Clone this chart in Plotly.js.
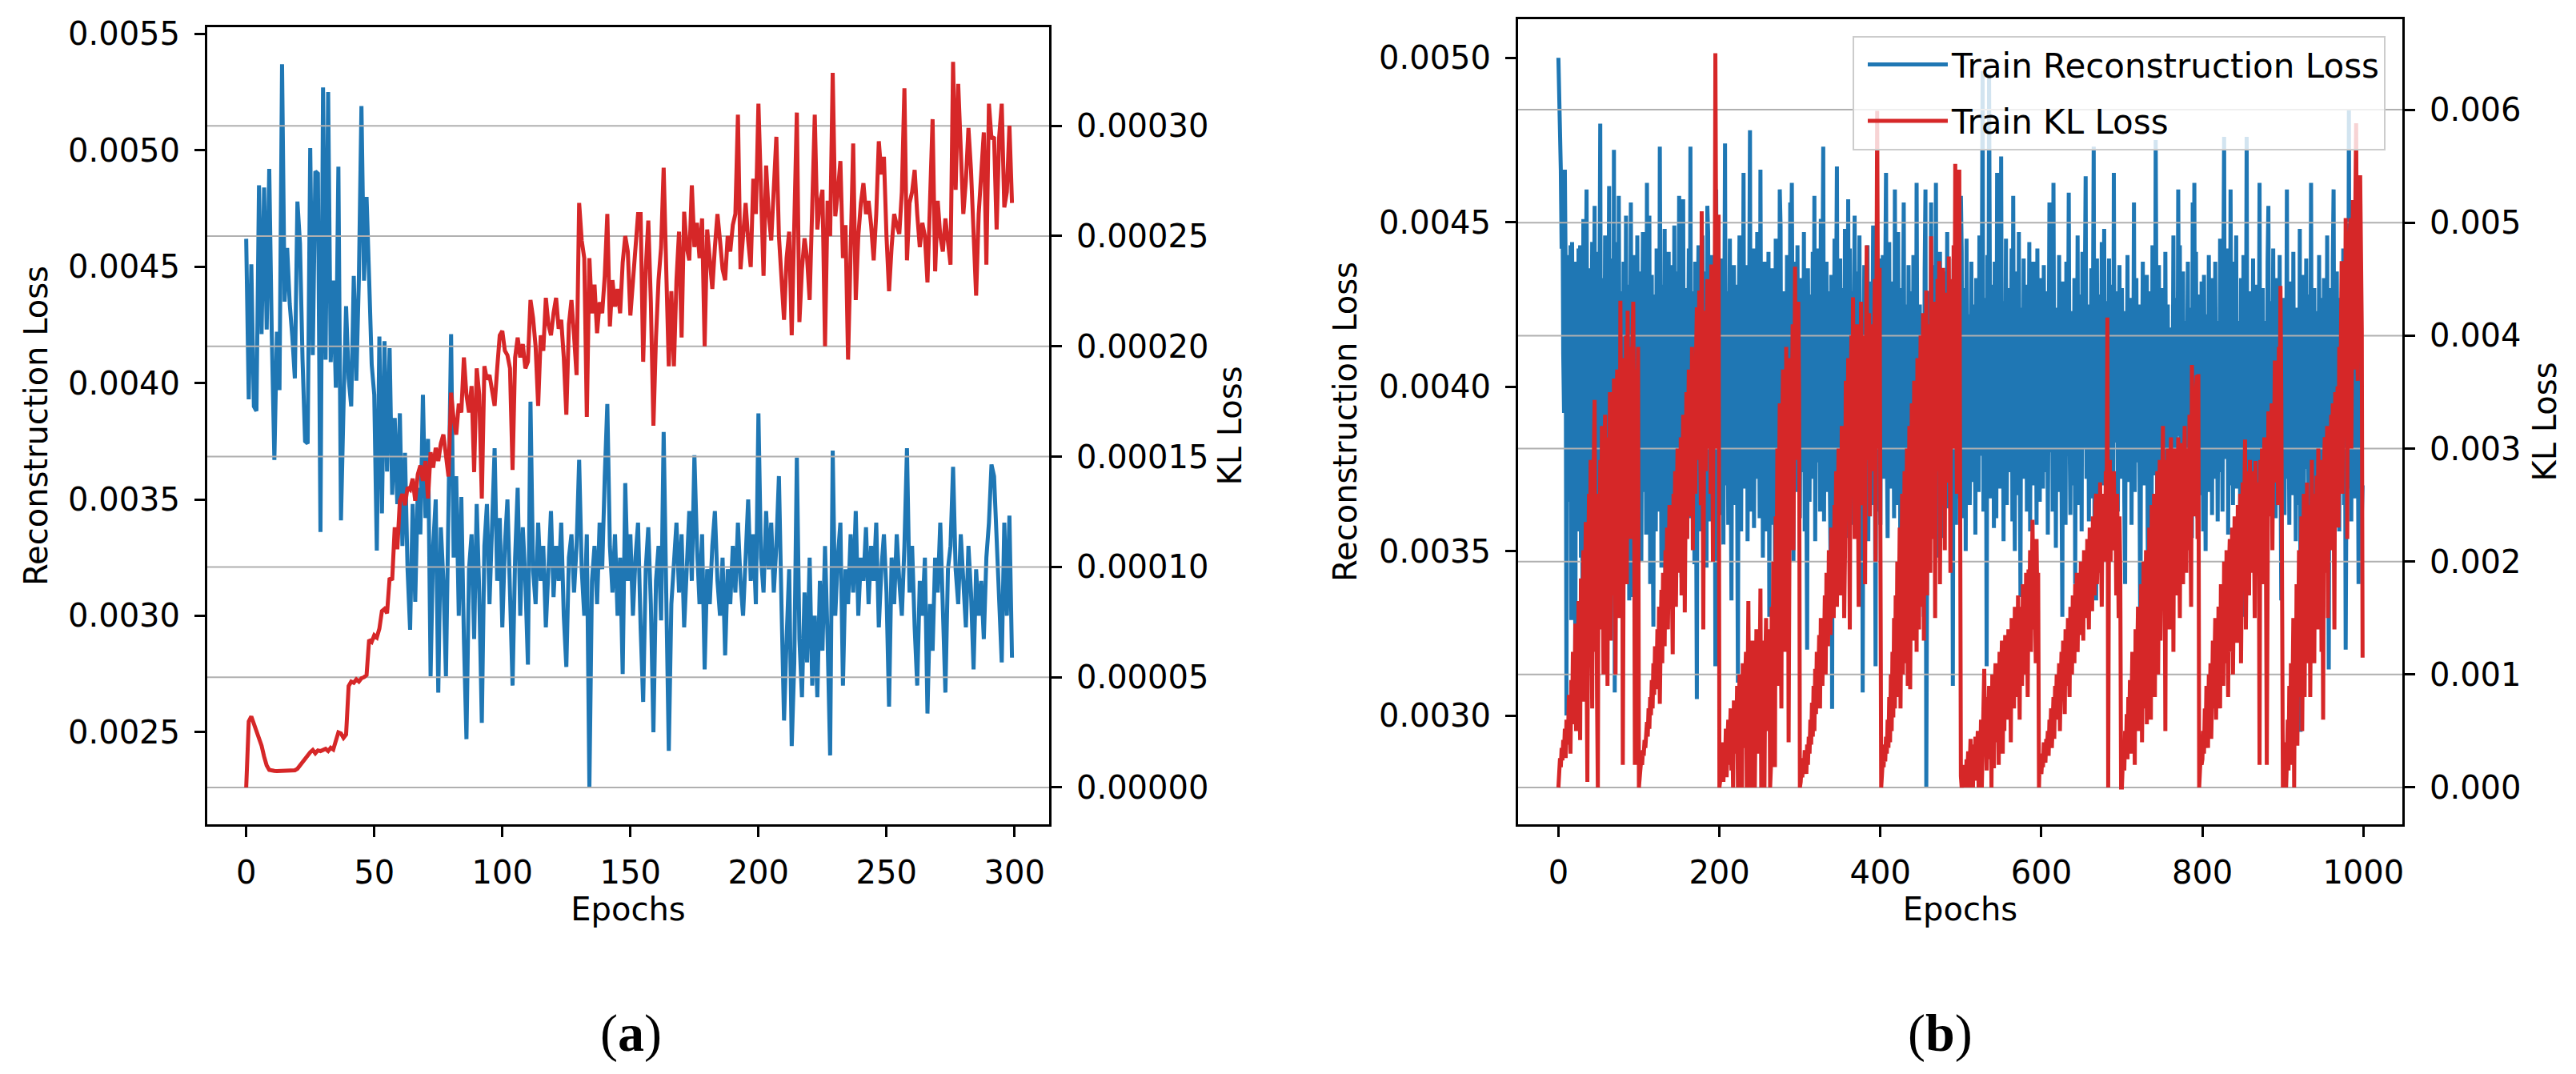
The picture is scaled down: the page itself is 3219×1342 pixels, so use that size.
<!DOCTYPE html>
<html>
<head>
<meta charset="utf-8">
<script src="https://cdn.plot.ly/plotly-3.0.1.min.js"></script>
<style>
html,body{margin:0;padding:0;background:#ffffff;}
#chart{width:3219px;height:1342px;}
</style>
</head>
<body>
<div id="chart"></div>
<script>
// ---------- Panel (a): 300 epochs ----------
// reconstruction loss, in units of 1e-6
const reconA_micro = [
4620,3930,4510,3900,3880,4850,4210,4840,4230,4920,
4200,3670,4220,3970,5370,4350,4580,4340,4200,4020,
4780,4600,4100,3750,3740,5010,4120,4910,4900,3360,
5270,4100,5250,4090,4440,3980,4930,3410,3900,4330,
4020,3900,4460,4010,4450,5190,4440,4800,4450,4080,
3950,3280,4200,3440,4180,3620,4150,3520,3850,3480,
3870,3300,3700,3200,2940,3480,3060,3550,3350,3950,
3420,3760,2740,3300,3500,2670,3380,3150,2740,3460,
4210,3250,3600,3000,3510,2900,2470,3200,3350,2900,
3480,3100,2540,3300,3480,3050,3350,3720,3150,3420,
2950,3300,3500,3100,2700,3250,3550,3000,3380,3150,
2790,3920,3200,3050,3400,3150,3300,2950,3250,3450,
3080,3300,3150,3400,3000,2780,3250,3350,3100,3300,
3670,3200,3000,3350,2265,3150,3300,3050,3400,3200,
3600,3910,3300,3100,3350,3000,3250,2750,3570,3150,
3350,3000,3250,3400,2950,2630,3200,3380,3050,2500,
3150,3300,2980,3790,3100,2420,3050,3250,3400,3100,
3350,2950,3200,3450,3150,3690,3300,3050,3350,2770,
3200,3050,3300,3450,3150,3000,3250,2830,3200,3050,
3300,3100,3400,3150,3000,3300,3500,3150,3350,3050,
3870,3250,3100,3450,3200,3400,3100,3300,3600,3050,
2550,2900,3200,2440,2800,3680,2900,2650,3100,2800,
3250,2700,3000,2650,3150,2850,3300,2900,2400,3710,
3000,3250,3400,2700,3200,3050,3350,3100,3450,3000,
3250,3150,3380,3050,3300,3150,3400,2950,3200,3350,
3100,2610,3250,3050,3350,3150,3000,3300,3720,3100,
3300,2950,2700,3150,3000,3250,2580,3050,2850,3250,
3100,3400,2950,2670,3200,3300,3640,3200,3050,3350,
3150,2950,3300,3100,2770,3200,3000,3150,2900,3250,
3400,3650,3600,3300,3100,2800,3400,3000,3430,2820
];
// KL loss, in units of 1e-7
const klA_e7 = [
0,300,322,290,250,215,190,140,100,80,
76,75,74,75,74,75,76,75,76,78,
85,100,115,135,150,160,170,155,168,165,
170,175,165,180,172,210,250,245,225,240,
460,480,475,490,480,495,500,510,670,660,
690,680,720,800,810,790,950,940,1180,1080,
1300,1330,1280,1360,1350,1400,1300,1420,1460,1390,
1480,1310,1520,1450,1540,1480,1560,1600,1520,1410,
1790,1670,1600,1740,1700,1950,1780,1700,1820,1430,
1900,1780,1310,1910,1850,1870,1800,1730,1900,2050,
2070,1980,1960,1900,1440,1950,2040,1950,2010,1900,
1930,2210,2130,2000,1730,2050,1980,2220,2100,2050,
2150,2220,2080,2120,1950,1690,2100,2210,2050,1870,
2650,2480,2400,1680,2400,2150,2280,2060,2200,2150,
2320,2600,2090,2300,2180,2260,2150,2380,2500,2430,
2140,2300,2450,2600,2600,1930,2350,2570,2200,1640,
2040,2300,2450,2810,2350,1910,2250,1910,2300,2520,
2040,2610,2450,2390,2730,2450,2560,2400,2580,2000,
2530,2400,2260,2450,2600,2480,2350,2300,2500,2430,
2550,2600,3050,2350,2500,2650,2480,2360,2760,2600,
3100,2650,2320,2820,2600,2480,2700,2950,2500,2300,
2120,2400,2520,2050,2600,3060,2110,2350,2490,2400,
2210,2600,3050,2530,2650,2710,2000,2660,2500,3240,
2590,2700,2840,2400,2550,1940,2400,2920,2210,2500,
2650,2740,2600,2660,2550,2390,2600,2930,2780,2860,
2500,2250,2450,2600,2550,2510,2700,3170,2390,2650,
2700,2800,2600,2450,2560,2500,2290,2650,3030,2340,
2660,2500,2430,2580,2450,2370,3290,2710,3190,2900,
2600,2750,2990,2800,2500,2230,2600,2800,2970,2370,
3100,2940,2950,2530,2950,3100,2630,2700,3000,2650
];

// ---------- Panel (b): 1000 epochs ----------
// train reconstruction loss, units of 1e-6
const reconB_micro = [
5000,4870,4880,4660,4420,4650,4100,3920,4660,4350,3000,4400,3650,4250,3800,4430,3290,4440,3950,3700,
4380,3130,4250,4050,3560,4420,3820,4430,3480,4150,3300,4510,3700,3340,4280,4600,3890,3560,4120,4360,
3720,4280,4440,3610,3980,4550,3250,3200,3840,4410,3680,4060,4800,3520,4330,4090,3400,3870,4460,3750,
4270,3590,4050,4610,3330,3920,4390,3780,3510,4720,3070,4160,4440,3860,3620,4580,4010,3430,4290,3900,
3580,4380,4150,3720,4520,3460,3990,4310,3350,4230,4560,3810,3360,4400,4080,3520,4280,3740,4460,3940,
3610,4350,4030,3470,4190,4470,3680,3880,4400,3550,4620,3790,4110,4520,3400,3960,4340,3630,3270,4280,
4020,3560,4420,3770,4180,3620,4730,3900,3450,4310,4090,3690,4480,3340,4000,4270,3730,4410,3580,3950,
4370,3330,4160,3800,4490,3640,4060,4350,3500,3910,4580,3780,4230,3420,3990,4570,3670,4140,3860,4300,
3540,4050,4420,3740,4730,3600,3880,4290,4020,3460,4380,3710,3050,4180,4430,3820,3560,4250,3960,4460,
3680,4120,3870,4350,3450,4550,4470,3760,3590,4230,4400,3660,4080,3920,4330,3150,4600,3850,3530,4270,
4070,3610,4390,3830,4180,3520,4440,4740,3700,3960,4290,3580,4120,4450,3770,3350,4220,3900,4370,3640,
4010,4310,3740,3100,4190,4460,3860,3560,4280,3990,4650,3690,4130,3820,4370,3530,4040,4260,4780,3620,
4180,3880,4420,3570,3990,4300,3720,4470,3850,4110,3600,4660,3930,4240,3480,4070,4380,3780,3560,4330,
4020,4410,3300,3950,4270,3580,4360,3840,4120,3470,4450,3760,4050,4310,3630,4600,4490,3710,4180,3860,
3540,4290,4060,3730,4400,3350,4150,3600,4560,4340,4620,4030,3470,4380,3950,4200,3680,4430,3820,4100,
3600,4330,3910,4180,3740,4470,3560,4250,3870,3200,4360,3990,3650,4280,4060,3720,4410,3840,4580,3530,
4080,4420,3770,3960,4300,3620,4510,3860,4150,4730,3590,4200,3940,4380,3680,4040,4290,3750,3500,4340,
3020,4110,3880,4450,3710,4250,4670,3830,3590,4180,4390,3930,3650,4300,4070,3760,4480,3540,4210,3880,
4570,3700,4420,3960,3580,4290,3820,4160,4520,3730,3990,4350,3610,4080,4460,3800,3560,4240,3070,4010,
4370,3690,4100,3880,4430,3530,4200,3950,4320,3640,4060,4490,3760,3910,3150,4280,4050,3620,4390,3850,
3580,4210,4010,4400,3720,3960,4280,4650,3830,3540,4170,4440,3690,4030,4320,3780,4120,3600,4600,3920,
4190,3640,4470,3870,4010,3300,4300,3750,4140,4560,3820,3480,4250,4020,3660,4370,3910,4100,3530,4290,
3840,4400,3700,4060,3590,4620,3980,4150,3460,4250,3790,4020,3620,4200,3300,4350,4600,2780,3760,4130,
3640,4290,3880,4560,3550,4060,4370,3720,3950,4620,3480,4180,4010,3690,4410,3820,3540,4270,3960,4120,
3700,4350,3900,4470,3630,4080,3780,4300,3520,4160,3090,4390,3850,4120,3580,4460,3720,4010,4280,3660,
4580,4410,3600,4150,3880,4300,3500,4450,3760,4060,4220,3640,3930,4380,3710,4250,3820,4120,3550,4330,
3870,4200,3680,4460,3790,4050,4300,4960,3620,4270,3950,4180,3150,4400,3740,4950,4020,3660,4310,3840,
4200,3570,4380,3910,3600,4650,4320,3760,4480,3690,4700,3850,4090,3530,4260,3960,4450,3640,4140,3880,
4300,3740,4070,4420,3590,4580,3830,3500,4350,3960,4150,3670,4470,3880,3360,4240,4010,3720,4390,3810,
4050,4310,3620,4180,3900,4440,3560,4260,3780,4100,4380,3700,3940,4230,3580,4420,3850,4070,3650,4330,
3820,4140,3690,4370,3960,4050,3740,4290,3550,4180,4560,3800,3980,4310,3620,4620,3890,4090,3510,4240,
4030,3680,4400,3850,4150,3720,3300,4320,3940,4110,3580,4380,3790,4040,4590,3860,3610,4230,3960,4170,
3700,4330,3400,4090,3870,4460,3640,4190,3920,4280,3560,4410,3810,3990,4300,4640,3720,3980,4250,3590,
4150,3880,4360,3660,4020,4730,3540,4200,3350,4390,3770,4060,3630,4280,3850,4440,3700,3950,4480,3800,
4260,3590,4120,3870,4390,3680,4010,4310,3760,3540,4650,3830,4170,3940,4290,3620,4080,4370,3720,3960,
4300,3860,4140,3650,3400,4230,3990,4400,3710,4080,3840,4270,3580,4190,3930,4560,3680,4040,4330,3770,
3890,4250,3620,3130,4200,4050,4380,3700,4110,3830,3980,4340,3560,3250,4170,3900,4290,3640,4430,3810,
4060,3730,4750,3900,3580,4220,4370,3760,4010,3620,4300,3870,4140,3540,4410,3830,3980,4250,3690,4090,
3350,3650,4180,3910,4460,3720,4050,3590,4270,3850,4600,3970,4430,3680,4110,3820,4350,3560,4200,3940,
3770,4090,4380,3630,4240,3880,4050,3540,4560,3810,4620,3700,4410,3960,3600,4280,3850,4130,3670,4320,
3900,3560,4340,3790,3500,4220,4040,3680,4400,3860,4110,4330,3610,4250,3940,3720,4380,3830,4090,3590,
4200,3740,4450,3890,4060,3620,4310,4760,3780,4150,3910,4420,3550,4080,3700,4600,3960,4170,3640,4380,
3810,4030,4460,3690,4200,3880,4100,3570,4330,3760,3300,4400,3640,4220,3930,4760,3730,4120,3850,4290,
3620,4180,3950,4390,3710,4060,4310,3840,3580,4250,3960,4620,3690,4110,3870,4300,3560,4200,3990,4140,
3730,4380,4550,3810,4090,3650,4260,3920,4420,3700,4030,3600,4330,3880,4180,3750,4400,3820,3350,4150,
3860,4270,3610,4130,3940,4600,3720,4050,3580,4320,3890,4180,3670,4410,3800,4060,3530,4240,3960,4120,
3640,4480,2950,4200,3780,4340,3600,4100,3930,4390,3750,4020,3590,4280,3870,4620,3680,4160,3820,4300,
3610,4230,3950,4080,3720,4400,3540,4270,3880,4140,3690,4330,3820,4050,3580,4460,3760,3140,4210,3870,
4300,3620,4380,4600,3850,4110,3700,4350,3800,4190,3560,4270,3930,4050,3750,4420,3640,4180,3200,3880,
4250,3690,4840,3800,4130,3590,4360,3920,4080,3660,4560,3780,4220,3970,3400,4280,3710,4150,3600,3700
];
// train KL loss, units of 1e-6
const klB_micro = [
0,120,260,180,350,240,420,310,520,260,
600,380,450,820,410,300,950,560,1200,620,
800,1450,500,1100,700,1650,900,420,1850,1000,
1400,2100,760,1600,2350,1100,50,1900,2600,1300,
2900,1500,700,2400,3100,3430,1200,2200,800,0,
2600,1400,2900,1800,3200,2320,1000,2700,3300,1600,
2400,900,3100,2000,3500,1300,2800,3300,1700,3620,
2500,1000,3000,3700,2100,3400,1500,4310,2700,3600,
200,3100,3800,2300,4000,1800,4220,3200,2600,3900,
2200,3600,4100,4300,2900,200,3700,2500,3400,3900,
0,80,150,260,200,330,280,420,350,500,
580,450,700,520,800,640,950,700,1100,820,
1250,870,1000,1400,900,1600,740,1300,1750,1100,
1900,1500,1250,2100,1600,2300,1400,1900,2500,1700,
2200,1800,1180,2600,2000,2800,1600,2400,3000,1900,
2700,2100,3100,1700,2500,3300,3140,1550,2900,3500,
2200,3000,3700,2400,3400,2700,3900,2100,3620,3200,
2600,3800,4250,2900,3500,4400,3100,2500,5100,3600,
1400,3300,4220,2800,3900,4500,3000,3700,4300,2600,
4630,3400,2000,4100,3600,6500,4200,3000,4600,5070,
0,60,250,120,400,50,300,180,520,90,
380,600,200,450,700,150,520,0,770,300,
650,420,900,0,550,1000,250,800,0,1100,
600,350,950,1200,0,700,1650,400,1000,0,
800,1300,500,1100,0,900,1400,300,1200,700,
1000,1760,0,600,1300,900,0,1100,1500,500,
1200,800,1400,0,180,1600,1000,2000,600,180,
2400,1500,3000,900,2600,3400,1800,700,3100,3700,
2200,3300,1200,3900,2800,3500,400,3000,3800,2500,
3600,4100,2100,3300,4610,2900,3900,3200,4300,3500,
0,50,180,90,260,150,330,200,120,380,
200,450,300,600,380,750,450,900,500,1050,
650,1200,800,1000,1350,700,1500,1100,900,1460,
1200,1700,1000,1900,1400,1250,2100,1600,1350,2300,
1650,2000,1500,2500,1800,2800,1600,2200,3000,1900,
2600,1700,3200,2300,2900,1500,2050,3600,3200,2400,
3800,2700,1400,3400,4000,2600,4340,3100,2200,3900,
2800,4100,3300,1600,3700,2900,4300,3500,2500,4000,
3200,1800,3800,4800,2900,3600,4200,2400,3500,3270,
4100,2800,3700,4500,2000,3400,5990,4000,3000,4600,
0,0,120,250,180,380,230,450,300,600,
350,800,400,1000,500,1200,620,1500,700,1700,
800,2000,900,1500,2300,700,1900,2600,1000,2200,
2800,1100,2500,3000,900,2100,3200,870,2700,3400,
1300,2900,3600,1500,3100,1200,3800,2400,1400,3300,
4000,1600,2800,4200,1300,3500,2300,4400,1700,3700,
2600,4100,1900,4880,3000,2200,4300,3600,1500,4000,
2800,4500,3300,4660,1800,3900,4200,2500,4600,3500,
2100,4300,3800,4380,2700,4700,3200,1900,4500,4000,
3000,4800,3600,5520,4200,2600,4900,5000,5470,100,
100,0,60,200,30,150,0,250,80,320,
0,200,430,100,300,0,380,150,450,60,
350,500,0,420,200,600,0,300,650,1050,
400,700,150,800,500,900,250,750,0,1000,
600,170,850,1100,400,740,950,200,1200,700,
900,1300,300,1000,500,1350,800,1100,600,1400,
900,1200,400,1500,1000,1300,700,1600,1100,1500,
800,1700,1200,600,1600,1400,900,1800,1300,1700,
1000,1900,1500,800,1930,1600,2100,1200,1800,2370,
1400,2000,1770,1100,2200,1600,1900,0,300,150,
120,250,180,400,300,220,430,350,500,280,
600,400,700,350,550,800,430,900,600,1000,
700,770,1100,500,900,1200,800,1300,1000,650,
1400,1100,900,1500,1200,800,1600,1300,1000,1700,
1400,1100,1800,1500,1900,1200,1700,1900,1350,2000,
1600,1800,1300,2100,1700,1990,1500,2200,1800,1400,
2300,1900,1600,1560,2400,2000,1700,2500,2600,1800,
2200,2500,1900,2700,2100,1600,2600,2300,2600,2000,
2800,2400,4160,0,2500,2900,2000,2700,2600,2300,
2800,2100,2500,1700,2600,2200,1500,2400,1900,0,
0,200,350,150,500,300,650,250,800,400,
950,300,700,1200,450,1000,200,1400,600,1100,
1600,500,1300,800,1800,400,1500,2000,700,1200,
2100,560,1700,900,2300,1400,600,2500,1100,1900,
2600,800,2200,1500,2800,1000,2400,2900,1300,2000,
2700,3200,1600,2300,500,2900,1800,3000,2100,1400,
2600,3100,1900,2800,1200,3000,2400,2000,2900,1700,
3100,2500,1500,2800,2200,3050,1800,2700,3200,2300,
1900,3000,2600,2100,3300,2700,1600,3740,2900,2400,
3200,2600,3500,3650,2200,3660,0,150,300,200,
250,500,300,700,400,900,550,350,1000,600,
1100,430,800,1300,700,1000,1500,600,1200,900,
1600,1000,700,1800,1200,1400,900,2000,1300,1100,
2100,1500,800,1900,2200,1200,1700,2300,1000,1800,
2400,1400,2000,1280,2500,1600,2200,2600,1100,2300,
2700,1800,2500,3080,1400,2100,2800,2400,1700,2900,
2200,2600,1900,2800,2400,1500,2890,2300,2700,2000,
2500,200,2900,2200,3000,1800,2600,3100,2300,2000,
200,2800,3330,2400,3000,2600,3400,2100,3200,2900,
3780,2700,3300,3600,2500,3900,3200,4440,3500,0,
0,200,80,400,0,240,600,150,900,300,
1100,200,800,1500,0,1300,600,1800,370,1400,
2100,800,1600,2400,500,1900,2600,800,2200,1100,
2700,1300,2000,2500,800,2300,2900,1500,2600,1100,
2400,2000,2760,1400,3000,2300,1800,2900,1200,2500,
600,2800,3100,1900,2600,3200,1500,3020,2400,2900,
3300,2100,3400,2700,1400,3500,2800,3200,3550,2300,
3900,3100,4200,4660,2600,3800,4500,3300,5040,4100,
2200,4700,3600,4900,5040,3000,4400,5200,3700,4800,
5500,5880,4300,3600,5100,4000,5420,4600,4060,1150
];

// ---------- ticks ----------
const epochTicksA = [0, 50, 100, 150, 200, 250, 300];
const epochTicksB = [0, 200, 400, 600, 800, 1000];
const reconTicksA = [0.0025, 0.0030, 0.0035, 0.0040, 0.0045, 0.0050, 0.0055];
const reconTickTextA = ['0.0025', '0.0030', '0.0035', '0.0040', '0.0045', '0.0050', '0.0055'];
const klTicksA = [0, 0.00005, 0.00010, 0.00015, 0.00020, 0.00025, 0.00030];
const klTickTextA = ['0.00000', '0.00005', '0.00010', '0.00015', '0.00020', '0.00025', '0.00030'];
const reconTicksB = [0.0030, 0.0035, 0.0040, 0.0045, 0.0050];
const reconTickTextB = ['0.0030', '0.0035', '0.0040', '0.0045', '0.0050'];
const klTicksB = [0, 0.001, 0.002, 0.003, 0.004, 0.005, 0.006];
const klTickTextB = ['0.000', '0.001', '0.002', '0.003', '0.004', '0.005', '0.006'];

const seriesNames = ['Train Reconstruction Loss', 'Train KL Loss'];

// ---------- build ----------
const reconA = reconA_micro.map(v => v * 1e-6);
const klA = klA_e7.map(v => v * 1e-7);
const reconB = reconB_micro.map(v => v * 1e-6);
const klB = klB_micro.map(v => v * 1e-6);
const epochsA = reconA.map((_, i) => i);
const epochsB = reconB.map((_, i) => i);

const BLUE = '#1f77b4', RED = '#d62728', GRID = '#b0b0b0';
const FONT = 'DejaVu Sans, Verdana, sans-serif';
const LW = 5;

const xRangeA = [-15.2, 313.5];
const xRangeB = [-50.1, 1048.4];

// matplotlib draws the twin-axis grid above the first axis' line and below the second one
function gridTrace(ticks, xr, xa, ya) {
  const xs = [], ys = [];
  ticks.forEach(t => { xs.push(xr[0], xr[1], null); ys.push(t, t, null); });
  return {x: xs, y: ys, xaxis: xa, yaxis: ya, type: 'scatter', mode: 'lines',
          line: {color: GRID, width: 2}, hoverinfo: 'skip', showlegend: false};
}

const traces = [
  {x: epochsA, y: reconA, xaxis: 'x', yaxis: 'y', type: 'scatter', mode: 'lines',
   name: seriesNames[0], line: {color: BLUE, width: LW}, showlegend: false},
  gridTrace(klTicksA, xRangeA, 'x', 'y2'),
  {x: epochsA, y: klA, xaxis: 'x', yaxis: 'y2', type: 'scatter', mode: 'lines',
   name: seriesNames[1], line: {color: RED, width: LW}, showlegend: false},
  {x: epochsB, y: reconB, xaxis: 'x2', yaxis: 'y3', type: 'scatter', mode: 'lines',
   name: seriesNames[0], legendgroup: 'g1', line: {color: BLUE, width: LW}, showlegend: true},
  gridTrace(klTicksB, xRangeB, 'x2', 'y4'),
  {x: epochsB, y: klB, xaxis: 'x2', yaxis: 'y4', type: 'scatter', mode: 'lines',
   name: seriesNames[1], legendgroup: 'g2', line: {color: RED, width: LW}, showlegend: true}
];

const tickFont = {family: FONT, size: 40, color: '#000000'};
const titleFont = {family: FONT, size: 40, color: '#000000'};
const common = {
  showline: true, linecolor: '#000000', linewidth: 3,
  ticks: 'outside', ticklen: 13, tickwidth: 3, tickcolor: '#000000',
  tickfont: tickFont, showgrid: false, zeroline: false, ticklabelstandoff: 10
};

const yDomA = [0.232489, 0.974665];
const yDomB = [0.232489, 0.982116];

const layout = {
  width: 3219, height: 1342,
  margin: {l: 0, r: 0, t: 0, b: 0, pad: 0},
  paper_bgcolor: '#ffffff', plot_bgcolor: '#ffffff',
  font: {family: FONT, size: 40, color: '#000000'},
  showlegend: true,
  legend: {
    x: 0.92606, y: 0.96677, xanchor: 'right', yanchor: 'top',
    bgcolor: 'rgba(255,255,255,0.8)', bordercolor: '#cccccc', borderwidth: 2,
    font: {family: FONT, size: 42, color: '#000000'},
    itemwidth: 100, indentation: 12, traceorder: 'grouped', tracegroupgap: 13
  },
  xaxis: Object.assign({}, common, {
    domain: [0.080460, 0.407269], anchor: 'y', range: xRangeA, mirror: true,
    tickmode: 'array', tickvals: epochTicksA, ticktext: epochTicksA.map(String),
    title: {text: 'Epochs', font: titleFont, standoff: 8}
  }),
  yaxis: Object.assign({}, common, {
    domain: yDomA, anchor: 'x', range: [0.002104, 0.005529],
    tickmode: 'array', tickvals: reconTicksA, ticktext: reconTickTextA,
    title: {text: 'Reconstruction Loss', font: titleFont, standoff: 14}
  }),
  yaxis2: Object.assign({}, common, {
    overlaying: 'y', side: 'right', anchor: 'x', range: [-0.0000167, 0.0003447],
    tickmode: 'array', tickvals: klTicksA, ticktext: klTickTextA,
    title: {text: 'KL Loss', font: titleFont, standoff: 14}
  }),
  xaxis2: Object.assign({}, common, {
    domain: [0.589314, 0.932588], anchor: 'y3', range: xRangeB, mirror: true,
    tickmode: 'array', tickvals: epochTicksB, ticktext: epochTicksB.map(String),
    title: {text: 'Epochs', font: titleFont, standoff: 8}
  }),
  yaxis3: Object.assign({}, common, {
    domain: yDomB, anchor: 'x2', range: [0.002669, 0.0051176],
    tickmode: 'array', tickvals: reconTicksB, ticktext: reconTickTextB,
    title: {text: 'Reconstruction Loss', font: titleFont, standoff: 16}
  }),
  yaxis4: Object.assign({}, common, {
    overlaying: 'y3', side: 'right', anchor: 'x2', range: [-0.000326, 0.0068013],
    tickmode: 'array', tickvals: klTicksB, ticktext: klTickTextB,
    title: {text: 'KL Loss', font: titleFont, standoff: 17}
  }),
  annotations: [
    {text: '(<b>a</b>)', xref: 'paper', yref: 'paper', x: 0.2448, y: 0.0380,
     xanchor: 'center', yanchor: 'middle', showarrow: false,
     font: {family: 'Liberation Serif, Times New Roman, serif', size: 66, color: '#000000'}},
    {text: '(<b>b</b>)', xref: 'paper', yref: 'paper', x: 0.7533, y: 0.0380,
     xanchor: 'center', yanchor: 'middle', showarrow: false,
     font: {family: 'Liberation Serif, Times New Roman, serif', size: 66, color: '#000000'}}
  ]
};

Plotly.newPlot('chart', traces, layout, {displayModeBar: false, staticPlot: true});
</script>
</body>
</html>
